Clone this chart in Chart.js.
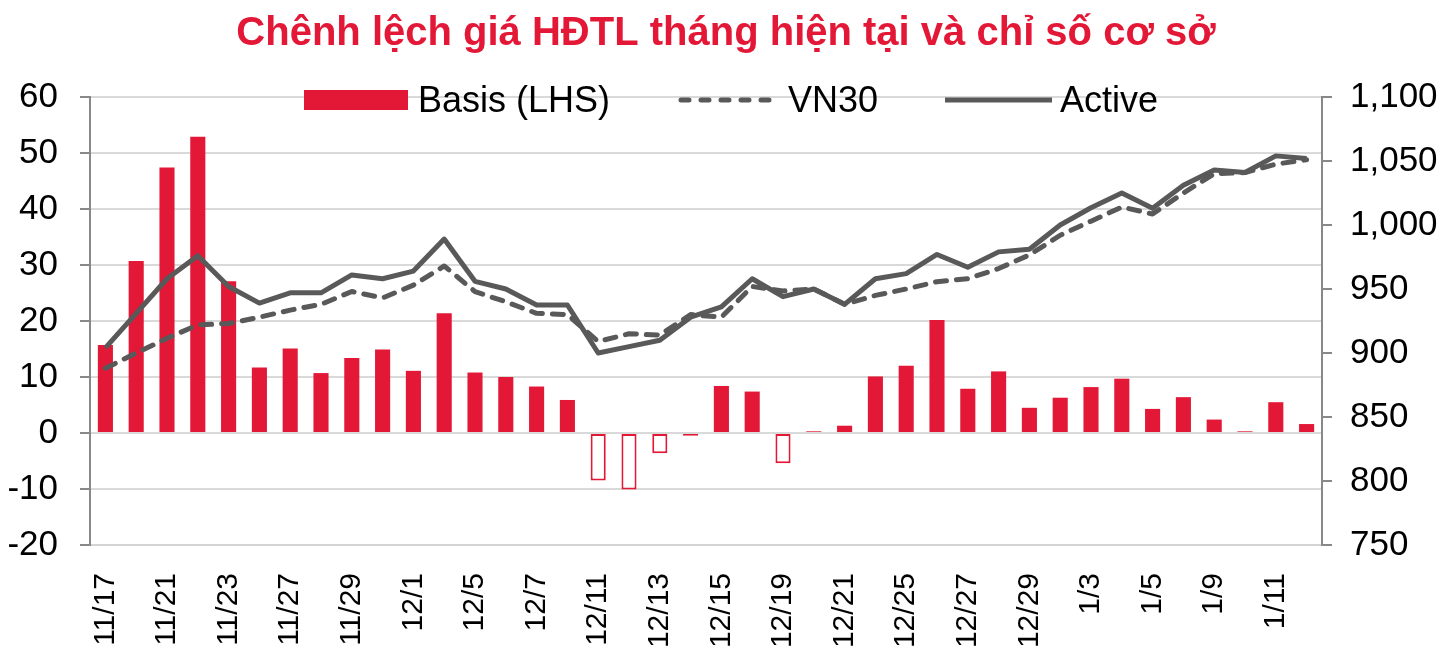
<!DOCTYPE html>
<html>
<head>
<meta charset="utf-8">
<script src="https://cdn.jsdelivr.net/npm/chart.js@4"></script>
<style>
  body { margin: 0; background: #fff; }
</style>
</head>
<body>
<canvas id="basis-chart" width="1452" height="655"></canvas>
<script>
const labels = ["11/17", "11/20", "11/21", "11/22", "11/23", "11/24", "11/27", "11/28", "11/29", "11/30",
  "12/1", "12/4", "12/5", "12/6", "12/7", "12/8", "12/11", "12/12", "12/13", "12/14",
  "12/15", "12/18", "12/19", "12/20", "12/21", "12/22", "12/25", "12/26", "12/27", "12/28",
  "12/29", "1/2", "1/3", "1/4", "1/5", "1/8", "1/9", "1/10", "1/11", "1/12"];

const basis = [15.7, 30.7, 47.4, 52.9, 27.1, 11.7, 15.1, 10.7, 13.4, 14.9,
  11.1, 21.4, 10.8, 10.0, 8.3, 5.9, -8.5, -10.1, -3.6, -0.5,
  8.4, 7.4, -5.4, 0.3, 1.3, 10.1, 12.0, 20.2, 7.9, 11.0,
  4.5, 6.3, 8.2, 9.7, 4.3, 6.4, 2.4, 0.3, 5.5, 1.6];

const vn30 = [888, 900, 911.5, 922, 923, 928, 933.5, 938, 948, 943,
  953, 968, 948, 940, 931, 930, 909, 915, 914, 930,
  928, 952, 948.5, 950, 938, 945, 950, 955.7, 958, 966,
  976.6, 992, 1003, 1014, 1008.6, 1025, 1040, 1041, 1047.5, 1051];

const active = [904, 931, 958, 976, 952, 939, 947, 947, 961, 958,
  964, 989, 956, 950, 937.5, 937.5, 900, 905, 910, 928,
  936, 958, 944, 950, 938, 958, 962, 977, 967, 979,
  981, 1000, 1013.5, 1025, 1013, 1031, 1043, 1041, 1054, 1052];

const RED = '#E31837';
const GREY = '#595959';
const FONT = '"Liberation Sans", Arial, sans-serif';

// legend sits on top of the plot area like in the excel chart
const overlayLegend = {
  id: 'overlayLegend',
  afterDraw(chart) {
    const c = chart.ctx;
    const y = 100;
    c.save();
    c.font = '36px ' + FONT;
    c.textBaseline = 'middle';

    c.fillStyle = RED;
    c.fillRect(304, 90, 104, 20);
    c.fillStyle = '#000';
    c.fillText('Basis (LHS)', 418, y + 2);

    c.strokeStyle = GREY;
    c.lineWidth = 5;
    c.lineCap = 'round';
    c.setLineDash([8, 12]);
    c.beginPath(); c.moveTo(681, y); c.lineTo(778, y); c.stroke();
    c.fillText('VN30', 788, y + 2);

    c.setLineDash([]);
    c.lineCap = 'butt';
    c.beginPath(); c.moveTo(945, y); c.lineTo(1052, y); c.stroke();
    c.fillText('Active', 1060, y + 2);
    c.restore();
  }
};

new Chart(document.getElementById('basis-chart'), {
  type: 'bar',
  data: {
    labels: labels,
    datasets: [
      {
        label: 'VN30',
        type: 'line',
        data: vn30,
        yAxisID: 'y2',
        borderColor: GREY,
        borderWidth: 5,
        borderDash: [11, 10],
        borderCapStyle: 'round',
        borderJoinStyle: 'round',
        pointRadius: 0,
        tension: 0,
        order: 1
      },
      {
        label: 'Active',
        type: 'line',
        data: active,
        yAxisID: 'y2',
        borderColor: GREY,
        borderWidth: 5,
        borderJoinStyle: 'round',
        pointRadius: 0,
        tension: 0,
        order: 0
      },
      {
        label: 'Basis (LHS)',
        data: basis,
        yAxisID: 'y',
        backgroundColor: ctx => basis[ctx.dataIndex] < 0 ? '#fff' : RED,
        borderColor: RED,
        borderWidth: ctx => basis[ctx.dataIndex] < 0 ? 2 : 0,
        borderSkipped: false,
        barPercentage: 0.49,
        categoryPercentage: 1,
        order: 2
      }
    ]
  },
  options: {
    responsive: false,
    animation: false,
    layout: { padding: 0 },
    plugins: {
      legend: { display: false },
      tooltip: { enabled: false },
      title: {
        display: true,
        text: 'Chênh lệch giá HĐTL tháng hiện tại và chỉ số cơ sở',
        color: RED,
        font: { family: FONT, size: 40, weight: 'bold' },
        padding: { top: 10, bottom: 39 }
      }
    },
    scales: {
      x: {
        grid: { display: false },
        border: { color: '#d4d4d4', width: 2 },
        ticks: {
          autoSkip: false,
          maxRotation: 90,
          minRotation: 90,
          padding: 20,
          color: '#000',
          font: { family: FONT, size: 30 },
          callback: (v, i) => i % 2 === 0 ? labels[i] : ''
        },
        afterFit: s => { s.height = 110; }
      },
      y: {
        position: 'left',
        min: -20,
        max: 60,
        ticks: {
          stepSize: 10,
          padding: 22,
          color: '#000',
          font: { family: FONT, size: 35 }
        },
        grid: { color: '#d9d9d9', lineWidth: 2, tickColor: '#888', tickLength: 10 },
        border: { color: '#888', width: 2 },
        afterFit: s => { s.width = 90; }
      },
      y2: {
        position: 'right',
        min: 750,
        max: 1100,
        ticks: {
          stepSize: 50,
          padding: 18,
          color: '#000',
          font: { family: FONT, size: 35 },
          callback: v => v.toLocaleString('en-US')
        },
        grid: { drawOnChartArea: false, color: '#888', lineWidth: 2, tickLength: 10 },
        border: { color: '#888', width: 2 },
        afterFit: s => { s.width = 130; }
      }
    }
  },
  plugins: [overlayLegend]
});
</script>
</body>
</html>
